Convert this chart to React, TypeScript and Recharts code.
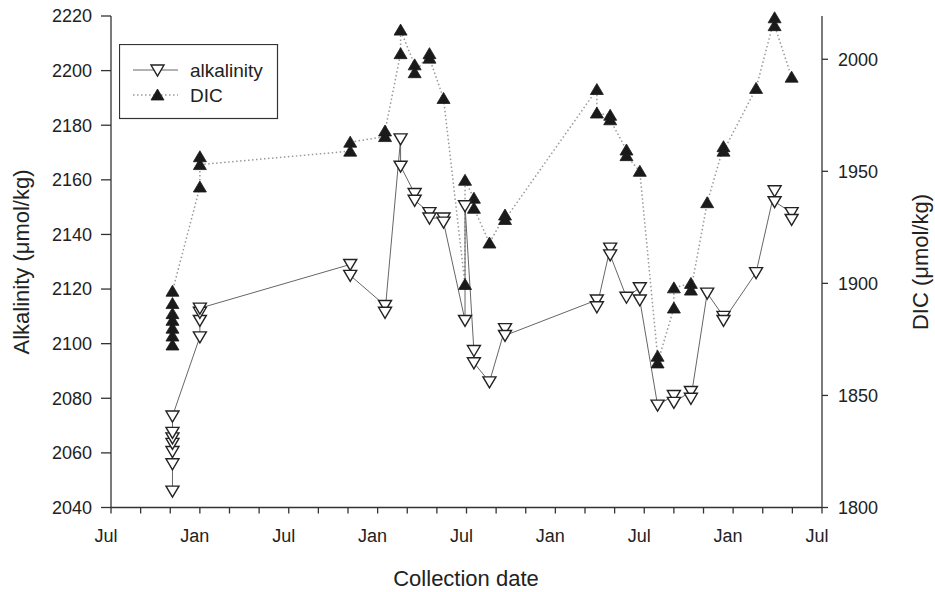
import { LineChart, Line, XAxis, YAxis } from "recharts";

// sampling dates, in months counted from the first July on the axis
const sampleMonths = [4.15, 6.0, 16.15, 18.5, 19.55, 20.5, 21.5, 22.45, 23.9, 24.5, 25.55, 26.6, 32.8, 33.7, 34.8, 35.7, 36.9, 38.0, 39.15, 40.25, 41.35, 43.55, 44.8, 45.95];

// several depths per date
const alkalinity = [
  [2046, 2056, 2060.5, 2063.5, 2065.5, 2067.5, 2073.5],
  [2102.5, 2108.5, 2111.5, 2113],
  [2129, 2125],
  [2114, 2111.5],
  [2175, 2165],
  [2155, 2152.5],
  [2148, 2146],
  [2146, 2144.5],
  [2108.5, 2150.5],
  [2097.5, 2093],
  [2086],
  [2105.5, 2103],
  [2116, 2113.5],
  [2135, 2132.5],
  [2117],
  [2120.5, 2116],
  [2077.5],
  [2081, 2078.5],
  [2082.5, 2080],
  [2118.5],
  [2110, 2108.5],
  [2126],
  [2156, 2152],
  [2148, 2145.5],
];

const dic = [
  [1872.5, 1876.5, 1880, 1883.5, 1886.5, 1891, 1896.5],
  [1943, 1956.5, 1953],
  [1959, 1963],
  [1965.5, 1968],
  [2002.5, 2013],
  [1997.5, 1994],
  [2002.5, 2000.5],
  [1982.5],
  [1899.5, 1946],
  [1938, 1933.5],
  [1918],
  [1930.5, 1928.5],
  [1986.5, 1976],
  [1975, 1973],
  [1959.5, 1957],
  [1950],
  [1867.5, 1864.5],
  [1889, 1898],
  [1900, 1897],
  [1936],
  [1961, 1959],
  [1987],
  [2018.5, 2015],
  [1992],
];

const monthTicks = [0, 2, 4, 6, 8, 10, 12, 14, 16, 18, 20, 22, 24, 26, 28, 30, 32, 34, 36, 38, 40, 42, 44, 46, 48];
const alkTicks = [2040, 2060, 2080, 2100, 2120, 2140, 2160, 2180, 2200, 2220];
const dicTicks = [1800, 1850, 1900, 1950, 2000];

const alkPoints = sampleMonths.flatMap((m, i) => alkalinity[i].map((v) => ({ m, v })));
const dicPoints = sampleMonths.flatMap((m, i) => dic[i].map((v) => ({ m, v })));

const FONT = "'Liberation Sans', Arial, Helvetica, sans-serif";
const INK = "#222";

const monthLabel = (v: number) => (v % 12 === 0 ? "Jul" : v % 12 === 6 ? "Jan" : "");

const DownTri = ({ cx, cy }: { cx: number; cy: number }) => (
  <path d={`M${cx - 6.5},${cy - 5} L${cx + 6.5},${cy - 5} L${cx},${cy + 6} Z`} fill="#fff" stroke={INK} strokeWidth={1.4} strokeLinejoin="miter" />
);

const UpTri = ({ cx, cy }: { cx: number; cy: number }) => (
  <path d={`M${cx},${cy - 6} L${cx + 6.5},${cy + 5} L${cx - 6.5},${cy + 5} Z`} fill="#1a1a1a" stroke="#1a1a1a" strokeWidth={0.8} />
);

const XTick = (p: any) => (
  <text x={p.x - 5} y={p.y} dy="0.71em" textAnchor="middle" fontSize={18} fill={INK}>
    {monthLabel(p.payload.value)}
  </text>
);

const Legend = () => (
  <svg width={160} height={76} style={{ position: "absolute", left: 119, top: 44 }}>
    <rect x={0.5} y={0.5} width={158} height={74} fill="#fff" stroke="#333" strokeWidth={1.2} />
    <line x1={14} y1={26} x2={59} y2={26} stroke="#666" strokeWidth={1} />
    <DownTri cx={38.5} cy={26} />
    <text x={71} y={32.5} fontSize={19} fill={INK}>alkalinity</text>
    <line x1={14} y1={51} x2={59} y2={51} stroke="#999" strokeWidth={1.5} strokeDasharray="1.5 2.5" />
    <UpTri cx={38.5} cy={51} />
    <text x={71} y={58} fontSize={19} fill={INK}>DIC</text>
  </svg>
);

const rotated = (left: number, text: string) => (
  <div
    style={{
      position: "absolute",
      left,
      top: 262,
      transform: "translate(-50%, -50%) rotate(-90deg)",
      whiteSpace: "nowrap",
      fontSize: 22,
      color: INK,
      lineHeight: "26px",
    }}
  >
    {text}
  </div>
);

export default function App() {
  return (
    <div style={{ position: "absolute", left: 0, top: 0, width: 935, height: 592, background: "#fff", fontFamily: FONT }}>
      <LineChart width={935} height={592} margin={{ top: 16, right: 0, bottom: 34.5, left: 0 }}>
        <XAxis
          type="number"
          dataKey="m"
          domain={[0, 48]}
          ticks={monthTicks}
          interval={0}
          height={50}
          tickSize={6}
          tickMargin={16}
          tick={XTick}
          axisLine={{ stroke: "#333", strokeWidth: 1.3 }}
          tickLine={{ stroke: "#333", strokeWidth: 1.3 }}
        />
        <YAxis
          yAxisId="alk"
          domain={[2040, 2220]}
          ticks={alkTicks}
          interval={0}
          width={111}
          tickSize={10}
          tickMargin={9}
          tick={{ fontSize: 18, fill: INK }}
          axisLine={{ stroke: "#333", strokeWidth: 1.3 }}
          tickLine={{ stroke: "#333", strokeWidth: 1.3 }}
        />
        <YAxis
          yAxisId="dic"
          orientation="right"
          domain={[1800, 2019.3]}
          ticks={dicTicks}
          interval={0}
          width={113}
          tickSize={6}
          tickMargin={10}
          tick={{ fontSize: 18, fill: INK }}
          axisLine={{ stroke: "#333", strokeWidth: 1.3 }}
          tickLine={{ stroke: "#333", strokeWidth: 1.3 }}
        />
        <Line
          yAxisId="dic"
          data={dicPoints}
          dataKey="v"
          stroke="#999"
          strokeWidth={1.5}
          strokeDasharray="1.5 2.5"
          dot={(p: any) => <UpTri key={`d${p.index}`} cx={p.cx} cy={p.cy} />}
          activeDot={false}
          isAnimationActive={false}
        />
        <Line
          yAxisId="alk"
          data={alkPoints}
          dataKey="v"
          stroke="#666"
          strokeWidth={1}
          dot={(p: any) => <DownTri key={`a${p.index}`} cx={p.cx} cy={p.cy} />}
          activeDot={false}
          isAnimationActive={false}
        />
      </LineChart>
      <Legend />
      {rotated(22, "Alkalinity (μmol/kg)")}
      {rotated(921, "DIC (μmol/kg)")}
      <div style={{ position: "absolute", left: 466, top: 566, transform: "translateX(-50%)", whiteSpace: "nowrap", fontSize: 22, color: INK, lineHeight: "25px" }}>
        Collection date
      </div>
    </div>
  );
}
